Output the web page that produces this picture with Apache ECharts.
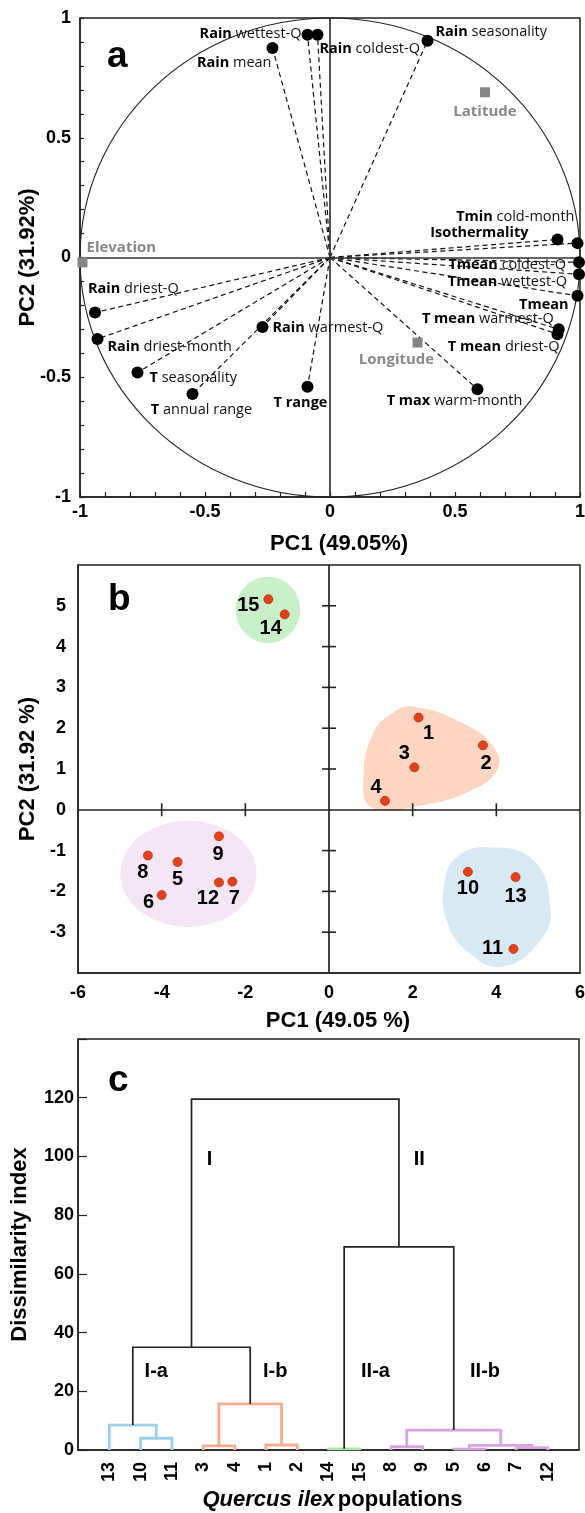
<!DOCTYPE html>
<html><head><meta charset="utf-8">
<script src="https://cdn.jsdelivr.net/npm/echarts@6/dist/echarts.min.js"></script>
<style>html,body{margin:0;padding:0;background:#fff}#c{width:585px;height:1513px}</style>
</head><body><div id="c"></div>
<script>
// ---------- Panel a: variable loadings ----------
const varBold = ['Rain','Rain','Rain','Rain','Tmin','Isothermality','Tmean','Tmean','Tmean','T mean','T mean','T max','T range','Rain','T','T','Rain','Rain'];
const varRest = [' wettest-Q',' coldest-Q',' mean',' seasonality',' cold-month','',' coldest-Q',' wettest-Q','',' warmest-Q',' driest-Q',' warm-month','',' warmest-Q',' annual range',' seasonality',' driest-month',' driest-Q'];
const varPC1 = [-0.09,-0.05,-0.23,0.39,0.99,0.91,0.996,0.996,0.99,0.915,0.91,0.59,-0.09,-0.27,-0.55,-0.77,-0.93,-0.94];
const varPC2 = [0.93,0.93,0.875,0.905,0.06,0.075,-0.02,-0.07,-0.16,-0.30,-0.32,-0.55,-0.54,-0.29,-0.57,-0.48,-0.34,-0.23];
const suppNames = ['Latitude','Elevation','Longitude'];
const suppPC1 = [0.62,-0.99,0.35];
const suppPC2 = [0.69,-0.02,-0.355];
// ---------- Panel b: population scores ----------
const popNames = ['1','2','3','4','5','6','7','8','9','10','11','12','13','14','15'];
const popPC1 = [2.14,3.68,2.04,1.34,-3.62,-4.0,-2.31,-4.33,-2.63,3.32,4.41,-2.63,4.46,-1.06,-1.45];
const popPC2 = [2.26,1.58,1.04,0.22,-1.28,-2.09,-1.76,-1.12,-0.65,-1.52,-3.41,-1.78,-1.65,4.79,5.16];
// ---------- Panel c: dendrogram ----------
const leafOrder = ['13','10','11','3','4','1','2','14','15','8','9','5','6','7','12'];
const merges = [
  ['10','11',4.0], ['13','m0',8.5], ['3','4',1.4], ['1','2',1.7], ['m2','m3',15.7],
  ['m1','m4',35.0], ['14','15',0.4], ['8','9',1.1], ['5','6',0.3], ['7','12',0.8],
  ['m8','m9',1.6], ['m7','m10',6.8], ['m6','m11',69.2], ['m5','m12',119.5]
];
const cladeNames = ['I','II','I-a','I-b','II-a','II-b'];

// ---------- layout / style helpers ----------
const varLabelLayout = [
  ['right',-6,-1],['left',2,14],['right',-1,15],['left',8,-9],['right',-3,-26],['right',-29,-7],
  ['right',-13,3],['right',-12,8],['right',-9,9],['right',-5,-10],['right',2,13],['center',-23,12],
  ['center',-7,16],['left',10,1],['center',9,16],['left',12,5],['left',10,8],['left',-7,-24]
];
const suppLabelLayout = [['center',0,19],['left',4,-15],['center',-21,17]];
const popLabelOffset = {'1':[10,16],'2':[3,18],'3':[-10,-14],'4':[-9,-13],'5':[0,17],'6':[-13,7],'7':[2,17],'8':[-5,17],'9':[-1,18],'10':[0,17],'11':[-21,0],'12':[-11,16],'13':[0,19],'14':[-14,14],'15':[-20,6]};
const clusterEllipses = [ // cx, cy, rx, ry (data units) + fill
  {c:[-1.46,4.90], r:[0.77,0.81], fill:'#c9efc9'},
  {c:[-3.36,-1.57], r:[1.63,1.30], fill:'#f5e6f6'}
];
const clusterHulls = [
  {pts:[[2.0,2.53],[3.35,2.04],[3.98,1.47],[4.02,0.98],[3.44,0.49],[2.27,0.12],[1.01,0.07],[0.83,0.9],[1.06,1.88],[1.46,2.33]], fill:'#fcd6c2'},
  {pts:[[3.80,-0.92],[4.88,-1.23],[5.29,-2.37],[5.06,-3.19],[4.16,-3.84],[3.35,-3.51],[2.81,-2.70],[2.77,-1.72],[3.08,-1.14]], fill:'#d8e9f3'}
];
const cladeLabelPos = [[4.2,99],[10.9,99],[2.5,26.6],[6.3,26.6],[9.5,26.6],[13.0,26.6]];
const mergeColors = ['#9dd0e8','#9dd0e8','#f6ad8e','#f6ad8e','#f6ad8e','#222','#a9e6a9','#d9a3e2','#d9a3e2','#d9a3e2','#d9a3e2','#d9a3e2','#222','#222'];

const AR = 'Liberation Sans';
const tickLabel = {fontFamily:AR, fontWeight:'bold', fontSize:18, color:'#000'};
const nameStyle = {fontFamily:AR, fontWeight:'bold', fontSize:22, color:'#000'};
const lineCol = '#222';

// dendrogram geometry
const nodePos = {};
leafOrder.forEach((l,i)=>{ nodePos[l] = [i+1, 0]; });
const dendroSegs = merges.map((m,i)=>{
  const a = nodePos[m[0]], b = nodePos[m[1]];
  nodePos['m'+i] = [(a[0]+b[0])/2, m[2]];
  return [a[0], a[1], b[0], b[1], m[2]];
});

const chart = echarts.init(document.getElementById('c'), null, {renderer:'canvas', width:585, height:1513});

const rich = {
  b:{fontFamily:'Open Sans', fontWeight:'bold', fontSize:14.5, color:'#000'},
  n:{fontFamily:'Open Sans', fontWeight:'normal', fontSize:14.5, color:'#111'}
};

const option = {
  animation:false,
  backgroundColor:'#fff',
  grid:[
    {left:80, top:18, width:500, height:479, show:true, borderColor:lineCol, borderWidth:1.5, outerBoundsMode:'none'},
    {left:78, top:565, width:502, height:408, show:true, borderColor:lineCol, borderWidth:1.5, outerBoundsMode:'none'},
    {left:78, top:1039, width:501, height:411, show:true, borderColor:lineCol, borderWidth:1.5, outerBoundsMode:'none'}
  ],
  xAxis:[
    {gridIndex:0, type:'value', min:-1, max:1, interval:0.5,
     axisLine:{onZero:false, lineStyle:{color:lineCol, width:1.5}},
     axisTick:{show:true, inside:true, length:5, lineStyle:{color:lineCol, width:1.2}},
     minorTick:{show:true, splitNumber:5, length:5, lineStyle:{color:lineCol, width:1.2}},
     splitLine:{show:false}, minorSplitLine:{show:false},
     axisLabel:Object.assign({margin:6}, tickLabel),
     name:'PC1 (49.05%)', nameLocation:'middle', nameGap:36, nameMoveOverlap:false,
     nameTextStyle:Object.assign({padding:[0,0,0,18]}, nameStyle)},
    {gridIndex:1, type:'value', min:-6, max:6, interval:2,
     axisLine:{onZero:false, lineStyle:{color:lineCol, width:1.5}},
     axisTick:{show:false}, splitLine:{show:false},
     axisLabel:Object.assign({margin:11}, tickLabel),
     name:'PC1 (49.05 %)', nameLocation:'middle', nameGap:37, nameMoveOverlap:false,
     nameTextStyle:Object.assign({padding:[0,0,0,18]}, nameStyle)},
    {gridIndex:2, type:'value', min:0, max:16, interval:1,
     axisLine:{onZero:false, lineStyle:{color:lineCol, width:1.5}},
     axisTick:{show:false}, splitLine:{show:false},
     axisLabel:Object.assign({margin:12, rotate:90, formatter:v=>leafOrder[v-1]||''}, tickLabel),
     name:'{i|Quercus ilex} {p|populations}', nameLocation:'middle', nameGap:39, nameMoveOverlap:false,
     nameTextStyle:{padding:[0,0,0,8], rich:{i:{fontFamily:AR, fontStyle:'italic', fontWeight:'bold', fontSize:22, color:'#000'}, p:{fontFamily:AR, fontWeight:'bold', fontSize:22, color:'#000'}}}}
  ],
  yAxis:[
    {gridIndex:0, type:'value', min:-1, max:1, interval:0.5,
     axisLine:{onZero:false, lineStyle:{color:lineCol, width:1.5}},
     axisTick:{show:true, inside:true, length:4, lineStyle:{color:lineCol, width:1.2}},
     minorTick:{show:true, splitNumber:5, length:4, lineStyle:{color:lineCol, width:1.2}},
     splitLine:{show:false}, minorSplitLine:{show:false},
     axisLabel:Object.assign({margin:9}, tickLabel),
     name:'PC2 (31.92%)', nameLocation:'middle', nameGap:41, nameMoveOverlap:false, nameTextStyle:nameStyle},
    {gridIndex:1, type:'value', min:-4, max:6, interval:1,
     axisLine:{onZero:false, lineStyle:{color:lineCol, width:1.5}},
     axisTick:{show:false}, splitLine:{show:false},
     axisLabel:Object.assign({margin:12, formatter:v=>(v===6||v===-4)?'':String(v)}, tickLabel),
     name:'PC2 (31.92 %)', nameLocation:'middle', nameGap:39, nameMoveOverlap:false, nameTextStyle:nameStyle},
    {gridIndex:2, type:'value', min:0, max:140, interval:20,
     axisLine:{onZero:false, lineStyle:{color:lineCol, width:1.5}},
     axisTick:{show:true, inside:true, length:9, lineStyle:{color:lineCol, width:1.2}},
     splitLine:{show:false},
     axisLabel:Object.assign({margin:4, formatter:v=>v===140?'':String(v)}, tickLabel),
     name:'Dissimilarity index', nameLocation:'middle', nameGap:47, nameMoveOverlap:false, nameTextStyle:nameStyle}
  ],
  graphic:[
    {type:'text', left:107, top:38, style:{text:'a', font:'bold 37px "Liberation Sans"', fill:'#000'}},
    {type:'text', left:108, top:581, style:{text:'b', font:'bold 37px "Liberation Sans"', fill:'#000'}},
    {type:'text', left:108, top:1062, style:{text:'c', font:'bold 37px "Liberation Sans"', fill:'#000'}}
  ],
  series:[
    // ---- panel a: unit circle
    {type:'custom', xAxisIndex:0, yAxisIndex:0, z:2, silent:true, data:[[0,0]],
     renderItem:(p,api)=>{const c=api.coord([0,0]); const s=api.size([1,1]);
       return {type:'ellipse', shape:{cx:c[0], cy:c[1], rx:s[0], ry:s[1]}, style:{fill:'none', stroke:'#222', lineWidth:1.1}};}},
    // ---- panel a: dashed vectors
    {type:'custom', xAxisIndex:0, yAxisIndex:0, z:3, silent:true,
     data:varPC1.map((x,i)=>[x,varPC2[i]]),
     renderItem:(p,api)=>{const a=api.coord([0,0]); const b=api.coord([api.value(0),api.value(1)]);
       return {type:'line', shape:{x1:a[0],y1:a[1],x2:b[0],y2:b[1]}, style:{stroke:'#111', lineWidth:1.2, lineDash:[5,3.5]}};}},
    // ---- panel a: variable points
    {type:'scatter', xAxisIndex:0, yAxisIndex:0, z:5, symbol:'circle', symbolSize:12,
     itemStyle:{color:'#000', opacity:1},
     data:varPC1.map((x,i)=>({value:[x,varPC2[i]],
       label:{show:true, position:'inside', align:varLabelLayout[i][0], verticalAlign:'middle', offset:[varLabelLayout[i][1], varLabelLayout[i][2]],
         formatter:'{b|'+varBold[i]+'}'+(varRest[i]?'{n|'+varRest[i]+'}':''), rich:rich}})),
     markLine:{silent:true, symbol:['none','none'], label:{show:false}, lineStyle:{type:'solid', color:'#333', width:1.7, opacity:1},
       data:[{xAxis:0},{yAxis:0}]}},
    // ---- panel a: supplementary variables
    {type:'scatter', xAxisIndex:0, yAxisIndex:0, z:5, symbol:'rect', symbolSize:10,
     itemStyle:{color:'#858585', opacity:1},
     data:suppPC1.map((x,i)=>({value:[x,suppPC2[i]], name:suppNames[i],
       label:{show:true, position:'inside', align:suppLabelLayout[i][0], verticalAlign:'middle', offset:[suppLabelLayout[i][1], suppLabelLayout[i][2]],
         formatter:suppNames[i], fontFamily:'Open Sans', fontWeight:'bold', fontSize:15, color:'#888'}}))},
    // ---- panel b: cluster ellipses
    {type:'custom', xAxisIndex:1, yAxisIndex:1, z:1, silent:true,
     data:clusterEllipses.map(e=>[e.c[0], e.c[1]]),
     renderItem:(p,api)=>{const e=clusterEllipses[p.dataIndex]; const c=api.coord(e.c); const s=api.size(e.r);
       return {type:'ellipse', shape:{cx:c[0], cy:c[1], rx:s[0], ry:s[1]}, style:{fill:e.fill}};}},
    // ---- panel b: cluster hulls
    {type:'custom', xAxisIndex:1, yAxisIndex:1, z:1, silent:true,
     data:clusterHulls.map(h=>[h.pts.reduce((s,q)=>s+q[0],0)/h.pts.length, h.pts.reduce((s,q)=>s+q[1],0)/h.pts.length]),
     renderItem:(p,api)=>{const h=clusterHulls[p.dataIndex];
       return {type:'polygon', shape:{points:h.pts.map(q=>api.coord(q)), smooth:0.45}, style:{fill:h.fill}};}},
    // ---- panel b: zero lines + crossing ticks
    {type:'scatter', xAxisIndex:1, yAxisIndex:1, z:3, symbol:'rect', symbolSize:[1.6,13], silent:true,
     itemStyle:{color:lineCol, opacity:1},
     data:[-4,-2,2,4].map(v=>[v,0]),
     markLine:{silent:true, symbol:['none','none'], label:{show:false}, lineStyle:{type:'solid', color:lineCol, width:1.7, opacity:1},
       data:[{xAxis:0},{yAxis:0}]}},
    {type:'scatter', xAxisIndex:1, yAxisIndex:1, z:3, symbol:'rect', symbolSize:[14,1.6], silent:true,
     itemStyle:{color:lineCol, opacity:1},
     data:[-3,-2,-1,1,2,3,4,5].map(v=>[0,v])},
    // ---- panel b: populations
    {type:'scatter', xAxisIndex:1, yAxisIndex:1, z:6, symbol:'circle', symbolSize:9,
     itemStyle:{color:'#e2411b', borderColor:'#b8300f', borderWidth:0.8, opacity:1},
     data:popPC1.map((x,i)=>({value:[x,popPC2[i]], name:popNames[i],
       label:{show:true, position:'inside', align:'center', verticalAlign:'middle', offset:popLabelOffset[popNames[i]],
         formatter:popNames[i], fontFamily:AR, fontWeight:'bold', fontSize:20, color:'#000'}}))},
    // ---- panel c: dendrogram
    {type:'custom', xAxisIndex:2, yAxisIndex:2, z:3, silent:true,
     data:dendroSegs,
     renderItem:(p,api)=>{const s=dendroSegs[p.dataIndex]; const col=mergeColors[p.dataIndex];
       const pts=[api.coord([s[0],s[1]]),api.coord([s[0],s[4]]),api.coord([s[2],s[4]]),api.coord([s[2],s[3]])];
       return {type:'polyline', shape:{points:pts}, style:{stroke:col, lineWidth:col==='#222'?1.7:2.8, fill:'none'}};}},
    // ---- panel c: clade labels
    {type:'scatter', xAxisIndex:2, yAxisIndex:2, z:4, symbolSize:0, silent:true,
     itemStyle:{opacity:1},
     data:cladeNames.map((n,i)=>({value:cladeLabelPos[i], name:n,
       label:{show:true, position:'inside', formatter:n, fontFamily:AR, fontWeight:'bold', fontSize:20, color:'#000'}}))}
  ]
};
chart.setOption(option);
</script>
</body></html>
